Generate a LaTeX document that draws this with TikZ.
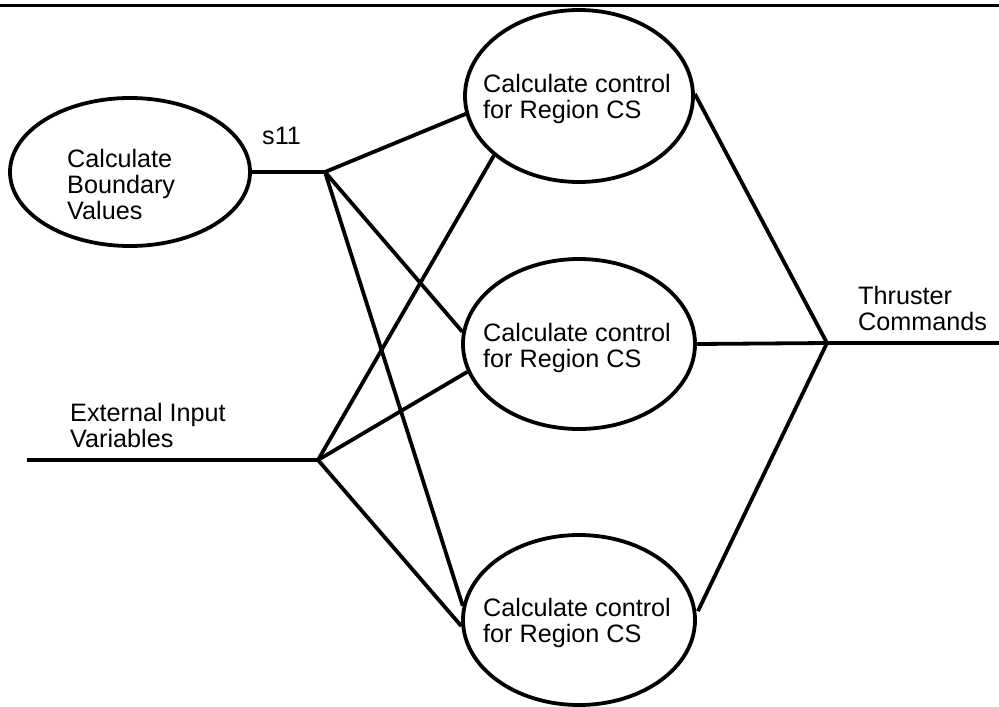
\documentclass[tikz,border=0pt]{standalone}
\usepackage{fontspec}
\setmainfont{Liberation Sans}
\usetikzlibrary{shapes.geometric}

\tikzset{
  process/.style={draw, ellipse, inner sep=0pt, line width=3.8pt,
                  minimum width=#1},
  flow/.style={line width=3.8pt},
  lbl/.style={inner sep=0pt, anchor=west, align=left,
              font=\fontsize{25.2}{26}\selectfont},
}

\begin{document}
\begin{tikzpicture}[x=1pt, y=-1pt]
  \useasboundingbox (0,0) rectangle (999,707);

  % rule along the top edge
  \draw[line width=3.8pt] (0,5.5) -- (999,5.5);

  % processes
  \node[process=240pt, minimum height=148pt] (bnd) at (130,172) {};
  \node[process=228pt, minimum height=172pt] (ctlA) at (579,96) {};
  \node[process=232pt, minimum height=170pt] (ctlB) at (579,344) {};
  \node[process=232pt, minimum height=170pt] (ctlC) at (579,620) {};

  \node[lbl] (bndText) at (67,184) {Calculate\\Boundary\\Values};
  \node[lbl] (ctlAText) at (483,99) {Calculate control\\for Region CS};
  \node[lbl] (ctlBText) at (483,348) {Calculate control\\for Region CS};
  \node[lbl] (ctlCText) at (483,623) {Calculate control\\for Region CS};

  % junction points of the data flows
  \coordinate (jS) at (325,172);
  \coordinate (jE) at (318,460);
  \coordinate (jT) at (827,343);
  \coordinate (extIn) at (27,460);
  \coordinate (thrOut) at (999,343);

  % flow labels
  \node[lbl] (sLbl) at (262,136) {s11};
  \node[lbl] (extLbl) at (70,425) {External Input\\Variables};
  \node[lbl] (thrLbl) at (858,308) {Thruster\\Commands};

  % s11 from the boundary values to every control process
  \draw[flow] (bnd.east) -- (jS);
  \draw[flow] (jS) -- (ctlA.189);
  \draw[flow] (jS) -- (ctlB.174.5);
  \draw[flow] (jS) -- (ctlC.173.4);

  % external inputs to every control process
  \draw[flow] (extIn) -- (jE);
  \draw[flow] (jE) -- (ctlA.215);
  \draw[flow] (jE) -- (ctlB.194.5);
  \draw[flow] (jE) -- (ctlC.183.5);

  % thruster commands out of the control processes
  \draw[flow] (ctlA.1.5) -- (jT);
  \draw[flow] (ctlB.east) -- (jT);
  \draw[flow, shorten <=3pt] (ctlC.3.8) -- (jT);
  \draw[flow] (jT) -- (thrOut);
\end{tikzpicture}
\end{document}
